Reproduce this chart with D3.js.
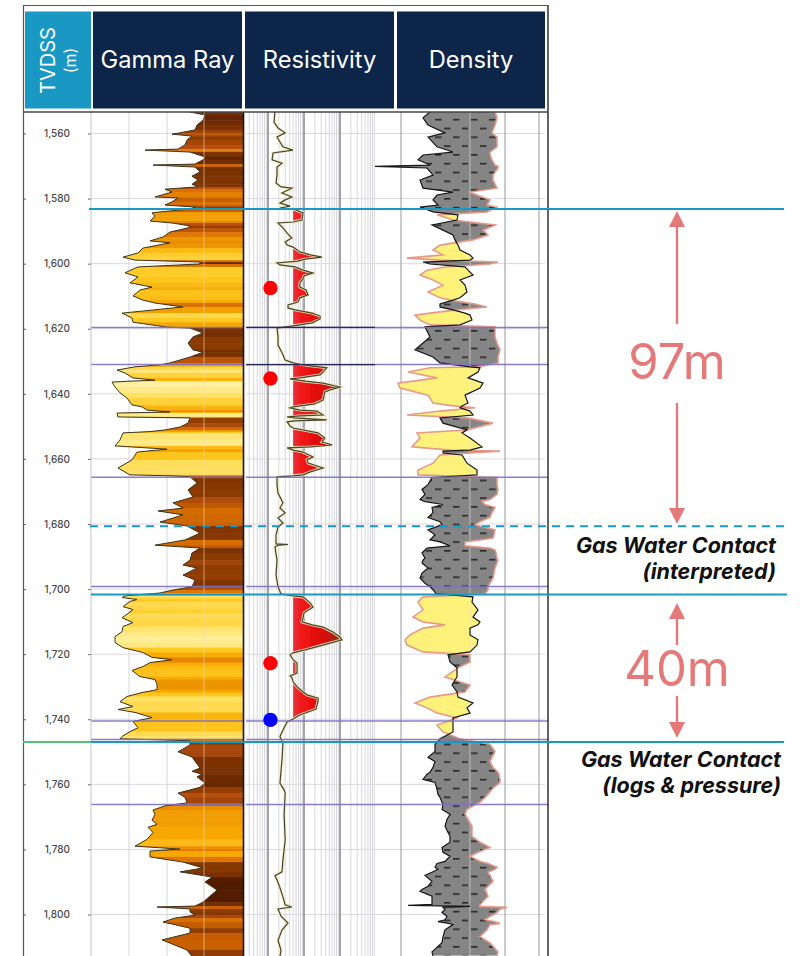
<!DOCTYPE html>
<html><head><meta charset="utf-8">
<script src="https://cdn.jsdelivr.net/npm/d3@7"></script>
<style>html,body{margin:0;padding:0;background:#fff}svg{display:block}text{font-family:Inter,"Noto Sans",sans-serif}</style>
</head><body><svg id="c" width="802" height="956"></svg>
<script>
// ---------- data ----------
const depthTicks = [1560,1580,1600,1620,1640,1660,1680,1700,1720,1740,1760,1780,1800];
const headers = ["Gamma Ray","Resistivity","Density"];
// [depth m, gamma ray reading]
const gammaRay = [[1553.4,99],[1554.3,114],[1555.9,112],[1557.4,106],[1558.9,104],[1559.8,89],[1560.2,81],[1560.8,101],[1562,96],[1563.5,94],[1564.8,87],[1565.1,54],[1565.7,99],[1567.2,114],[1568.1,112],[1569.4,104],[1569.7,62],[1570.3,104],[1571.8,109],[1573.1,101],[1574.3,107],[1575.6,101],[1576.4,107],[1577.1,74],[1578,81],[1579.5,64],[1579.8,87],[1581,81],[1582,74],[1582.6,104],[1583.2,99],[1584.1,69],[1584.4,61],[1585.4,64],[1586.9,59],[1587.5,81],[1588.4,99],[1589,97],[1590.3,79],[1591.8,72],[1593,59],[1593.6,79],[1595.2,52],[1596.7,47],[1598,32],[1598.9,44],[1599.5,109],[1600.1,109],[1601,47],[1602.8,34],[1604.1,47],[1605.9,39],[1607.2,61],[1608.1,49],[1609.9,42],[1611.2,52],[1612.1,64],[1613.3,92],[1615.2,31],[1616.7,41],[1618,42],[1619.5,76],[1619.8,99],[1621.3,112],[1622.5,102],[1624.4,97],[1626.5,102],[1627.2,112],[1628.7,99],[1630.5,79],[1631.1,69],[1631.7,44],[1632.7,26],[1633.6,34],[1635.1,42],[1635.8,64],[1636.1,39],[1636.4,21],[1637.9,24],[1639.7,29],[1641.3,36],[1643.4,41],[1644,51],[1645,56],[1645.6,79],[1645.9,26],[1647.1,27],[1647.4,99],[1649,97],[1650.2,89],[1651.1,74],[1651.6,59],[1652,32],[1654.2,29],[1656,24],[1657,76],[1657.9,46],[1660.3,41],[1662.8,27],[1664.9,39],[1665.2,79],[1665.5,99],[1667.4,106],[1669.5,97],[1671.7,102],[1673.5,82],[1675.1,92],[1676,67],[1677.2,92],[1679.4,69],[1680.6,96],[1682.8,109],[1684.9,94],[1686.5,64],[1687.4,109],[1688.9,101],[1691.1,99],[1692.6,92],[1693.5,106],[1695.7,92],[1697.2,104],[1699.3,101],[1700.3,82],[1701.2,69],[1702.1,34],[1702.6,31],[1703.2,46],[1703.8,39],[1705.4,32],[1706.3,42],[1707.5,37],[1708.8,31],[1710.3,42],[1711.5,32],[1713.1,31],[1714.6,24],[1716.4,24],[1718,32],[1719.5,52],[1721,61],[1721.7,81],[1722.6,59],[1723.8,52],[1725,41],[1726.9,49],[1727.8,64],[1729.3,66],[1730.9,66],[1731.8,51],[1733,36],[1734.6,29],[1736.1,42],[1737,27],[1737.9,44],[1739.5,61],[1740.7,42],[1742.6,47],[1743.8,39],[1745.3,31],[1746,29],[1746.6,99],[1747.9,99],[1750,87],[1751.6,101],[1755,109],[1756,101],[1756.9,111],[1757.7,106],[1759.6,114],[1760.9,109],[1762.7,87],[1764,94],[1765.7,96],[1766.6,74],[1767.9,62],[1769.2,64],[1771,61],[1772.3,66],[1773.2,57],[1774.8,62],[1776.9,56],[1779,44],[1779.9,89],[1780.5,59],[1782.3,59],[1783.9,92],[1785.7,112],[1786.9,89],[1788.5,121],[1790,114],[1792.5,126],[1796.2,112],[1797.4,104],[1797.7,66],[1798.3,99],[1799.2,99],[1800.2,104],[1801.1,84],[1802.3,72],[1804.2,99],[1805.7,99],[1807.8,71],[1810.9,96],[1813.3,102]];
// [depth m, resistivity ohm.m]
const resistivity = [[1553.4,1.56],[1556.5,1.47],[1558.3,1.9],[1559.8,3],[1561.1,1.78],[1562.6,2.15],[1564.1,2.6],[1565.1,4.9],[1566,1.38],[1568.1,1.3],[1569.1,2.45],[1570.3,1.78],[1572.8,1.78],[1575.2,1.67],[1576.4,2.3],[1576.8,4.6],[1578.3,2.45],[1579.5,4.6],[1580.4,3],[1581.4,2.15],[1582.3,4.1],[1582.9,2.15],[1583.2,5],[1584.4,9.4],[1586.6,8.8],[1587.2,5],[1587.5,1.9],[1589,2.6],[1590.6,3.4],[1592.1,4.6],[1593.3,3],[1594.3,3.4],[1594.9,5],[1596.4,7.7],[1597.3,15],[1598,31.6],[1598.6,10.7],[1599.2,6.8],[1599.8,1.78],[1600.4,2.15],[1601,5.6],[1602,9.4],[1602.9,17.8],[1603.8,10],[1604.7,9.4],[1605.9,7.7],[1607.2,7.7],[1608.1,11.4],[1609.6,13],[1610.5,7.7],[1611.8,6.8],[1612.7,3.6],[1613.6,3.6],[1614.2,5.6],[1615.2,17],[1616.1,28],[1617,28],[1618.2,17],[1619.1,5],[1619.8,1.78],[1622.5,1.9],[1625,1.9],[1627.4,2.45],[1629.6,3],[1630.5,5],[1631.1,9.4],[1632,43],[1633.3,33.8],[1634.2,28],[1635.1,7.7],[1635.4,4.1],[1636.1,10.7],[1636.7,33.8],[1637.9,100],[1638.8,53],[1639.4,38],[1641.9,33.8],[1643.1,20],[1644,5],[1644.3,4.1],[1645,7.7],[1645.3,23],[1646.5,33.8],[1646.8,7.7],[1647.1,3.4],[1647.4,5.6],[1648,43],[1648.3,5.6],[1648.6,3.4],[1649.9,4.1],[1650.5,5],[1652,24.5],[1653.6,38],[1654.8,31.6],[1655.7,60],[1656.3,15],[1656.6,3.4],[1657.3,5],[1657.9,9.4],[1659.4,17.8],[1660.3,12.1],[1661.3,13],[1662.8,33.8],[1664,15],[1664.9,9.4],[1665.2,5],[1665.5,1.78],[1668,1.78],[1670.5,1.9],[1673.5,2.6],[1675.1,2.15],[1676.6,3],[1678.1,1.9],[1679.7,2.6],[1680.9,1.9],[1683.4,1.67],[1686.1,1.67],[1686.3,3.6],[1686.5,1.9],[1687.1,1.56],[1691.1,1.78],[1695.7,1.67],[1699.3,1.9],[1701.5,2.3],[1702.1,5],[1702.4,9.4],[1704.3,15],[1705.5,17.8],[1707.3,10],[1708.9,9.4],[1710.1,8.8],[1711,17],[1711.7,33.8],[1713.2,64],[1714.7,100],[1715.6,113],[1717.2,33.8],[1718.7,10.7],[1719.6,5],[1720.2,4.1],[1721.7,5],[1722.7,6.4],[1724.2,6.4],[1725.8,6.4],[1726.7,4.1],[1727.3,4.6],[1728.5,5],[1730,6.4],[1731.3,8.8],[1732.5,12.1],[1733.5,24.5],[1734.7,24.5],[1735.6,23],[1736.9,21.5],[1738.7,7.7],[1739.9,5],[1740.8,3.4],[1743.3,2.6],[1745.4,2.15],[1747.3,2.6],[1752.5,2.45],[1759.6,2.15],[1761.7,2.8],[1762.7,3],[1769.4,2.8],[1777.1,3],[1783.2,2.6],[1786.9,2.45],[1788.1,1.56],[1789.4,1.78],[1791.8,2.15],[1794.6,2.6],[1797,3],[1797.7,4.6],[1798.3,1.9],[1800.5,2.3],[1802.6,3.6],[1804.8,2.45],[1807.9,1.9],[1811,2.3],[1812.9,2.15]];
// [depth m, neutron reading (black), density reading (pink)]
const porosity = [[1553.4,55,120],[1555.2,48,122],[1557.4,53,120],[1559.8,70,117],[1561.1,53,122],[1564.1,62,122],[1565.7,78,115],[1566.6,48,115],[1568.1,43,117],[1569.7,55,120],[1570.1,0,123],[1570.6,52,123],[1572.8,58,118],[1574.3,45,118],[1576.8,48,122],[1578,78,95],[1578.9,62,102],[1580.4,58,115],[1582,63,112],[1582.6,45,122],[1584.1,58,112],[1585,83,62],[1586.6,82,78],[1588.1,57,120],[1589.7,68,108],[1591.2,78,113],[1592.7,80,98],[1594.3,83,65],[1595.8,85,58],[1597.3,95,68],[1598.3,98,32],[1598.9,95,65],[1599.5,48,123],[1600.1,55,115],[1601,90,70],[1602,93,52],[1603.5,98,45],[1605,85,58],[1606.6,90,68],[1608.7,92,53],[1610.5,85,65],[1611.2,78,75],[1612.4,65,100],[1613.3,65,112],[1614.2,78,82],[1615.2,90,55],[1615.8,95,40],[1617.3,97,45],[1618.8,85,55],[1619.4,50,120],[1622.5,55,120],[1624.4,48,122],[1626.5,40,125],[1628.7,58,123],[1630.5,65,123],[1631.7,95,105],[1632,105,55],[1633.3,103,33],[1635.1,93,62],[1636.7,108,23],[1638.2,105,25],[1640.4,90,53],[1642.8,93,58],[1643.7,87,78],[1644.3,85,100],[1645.3,95,65],[1646.5,98,32],[1647.4,65,92],[1649,68,118],[1651.1,92,92],[1652,87,42],[1653.6,95,45],[1656.3,107,37],[1657.3,95,75],[1657.6,68,125],[1658.2,68,95],[1658.8,87,65],[1661.3,92,58],[1663.4,102,43],[1664.9,102,43],[1665.7,57,122],[1667.9,53,122],[1669.4,47,123],[1670.9,50,122],[1672.5,45,115],[1673.1,50,107],[1674,68,110],[1674.9,57,120],[1676.5,58,117],[1678,53,115],[1679.3,65,105],[1680.2,67,100],[1681.8,53,120],[1683.3,60,119],[1684.3,57,118],[1684.9,55,105],[1685.5,65,90],[1686.7,75,90],[1687.4,52,115],[1688,50,120],[1688.9,47,121],[1690.5,50,122],[1691.1,48,123],[1692,47,122],[1693.5,53,120],[1695.1,47,119],[1696.6,45,118],[1698.2,50,115],[1699.3,55,113],[1700.2,58,113],[1701.4,61,110],[1702.4,98,48],[1704,97,43],[1706.4,103,48],[1708.6,98,38],[1710.1,105,48],[1711,103,70],[1712,95,48],[1714.1,95,35],[1715.6,103,30],[1717.2,102,32],[1719.3,95,48],[1720.2,73,95],[1722.4,75,95],[1724.2,82,83],[1727,82,70],[1729.5,77,95],[1731.6,82,90],[1733.2,83,55],[1735,98,40],[1736.5,92,52],[1738.1,95,62],[1739.6,78,82],[1741.8,78,62],[1743.9,78,68],[1746,65,85],[1747.7,60,115],[1749.9,60,120],[1751.7,53,117],[1753,60,115],[1754.8,58,118],[1756.3,55,123],[1756.9,52,124],[1758.5,48,125],[1759.4,60,125],[1761.5,62,117],[1763.1,63,113],[1764,65,110],[1765.5,67,105],[1766.1,68,101],[1767.7,67,92],[1769.2,75,90],[1770.8,72,93],[1772.9,70,97],[1776,75,97],[1777.8,75,105],[1779.4,67,115],[1780.9,68,103],[1782.1,75,95],[1783.7,70,105],[1784.3,62,113],[1785.5,60,122],[1786.1,63,120],[1787,57,113],[1788,50,115],[1789.8,57,118],[1791.3,53,113],[1792.3,47,110],[1792.9,45,111],[1794.4,57,113],[1796.3,57,107],[1796.9,57,105],[1797.2,33,105],[1797.5,95,105],[1797.8,68,132],[1798.4,70,125],[1799.4,67,122],[1800.6,72,115],[1801.6,70,110],[1802.2,63,120],[1802.8,75,125],[1803.1,78,115],[1804.7,70,112],[1806.8,68,105],[1808.7,67,115],[1811.5,57,123],[1812.7,58,122]];
const formationTops = [1619.6,1631,1665.6,1699.2,1740.5,1746.2,1766.2];
const darkTops = [1619.6,1631];
const samples = [{depth:1607.5,res:1.17,kind:"gas"},{depth:1635.3,res:1.17,kind:"gas"},{depth:1722.8,res:1.17,kind:"gas"},{depth:1740.2,res:1.17,kind:"water"}];
const contactDepths = {top:1583.2,interpreted:1680.7,base:1701.7,logs:1747};
const gammaGrid = [38,76,113];
const resMajor = [1,10,100];
const resMinor = [0.3,0.4,0.5,0.6,0.7,0.8,0.9,2,3,4,5,6,7,8,9,20,30,40,50,60,70,80,90,200,300,400,500,600,700,800,900];
const porosityGrid = [26,130,164];
const porosityPale = 95;
const resCutoff = 5;

// ---------- scales ----------
const svg = d3.select("#c");
const y = d3.scaleLinear().domain([1560,1800]).range([133.5,914.5]);
const gx = d3.scaleLinear().domain([0,152]).range([91,243]);
const rx = d3.scaleLog().domain([1,1000]).range([268,376]);
const dx = d3.scaleLinear().domain([0,170]).range([375,545]);
const grColor = d3.scaleLinear().domain([20,32,42,60,75,90,100,115])
  .range(["#FFF3B0","#FFE36A","#FFC820","#F5A500","#E07800","#B85008","#8a3a06","#5e2205"]);
const plotTop = 112, plotBottom = 956;
const BLUE="#1a98c4", PINK="#E57878", NAVY="#0C2549";

const defs = svg.append("defs");
defs.append("clipPath").attr("id","plot").append("rect").attr("x",0).attr("y",plotTop).attr("width",802).attr("height",plotBottom-plotTop);
const soft = defs.append("filter").attr("id","soft").attr("x",0).attr("y",0).attr("width",1).attr("height",1);
soft.append("feGaussianBlur").attr("stdDeviation",0.45);
const grArea = d3.area().y(d=>y(d[0])).x0(d=>gx(d[1])).x1(gx(152));
defs.append("clipPath").attr("id","grClip").append("path").attr("d",grArea(gammaRay));
const grad = defs.append("linearGradient").attr("id","redFill").attr("gradientUnits","userSpaceOnUse")
  .attr("x1",rx(resCutoff)).attr("x2",rx(120)).attr("y1",0).attr("y2",0);
[[0,"#e8323c"],[0.2,"#f01414"],[0.65,"#d80c0c"],[0.85,"#a02a10"],[1,"#6e4a18"]].forEach(s=>grad.append("stop").attr("offset",s[0]).attr("stop-color",s[1]));
const pat = defs.append("pattern").attr("id","shale").attr("patternUnits","userSpaceOnUse").attr("width",36).attr("height",17.6).attr("y",y(1560));
pat.append("rect").attr("width",36).attr("height",17.6).attr("fill","#858585");
[[3,3],[21,3],[12,11.8],[30,11.8]].forEach(p=>pat.append("rect").attr("x",p[0]).attr("y",p[1]).attr("width",6.5).attr("height",1.5).attr("fill","#222"));
const dy = d=>y(d[0]);
defs.append("clipPath").attr("id","leftOfDensity").append("path").attr("d",d3.area().y(dy).x0(dx(-5)).x1(d=>dx(d[2]))(porosity));
defs.append("clipPath").attr("id","leftOfNeutron").append("path").attr("d",d3.area().y(dy).x0(dx(-5)).x1(d=>dx(d[1]))(porosity));

// ---------- plot ----------
const outer = svg.append("g").attr("clip-path","url(#plot)");
const plot = outer.append("g").attr("filter","url(#soft)");
plot.append("rect").attr("x",0).attr("y",plotTop-2).attr("width",560).attr("height",plotBottom-plotTop+4).attr("fill","#fff");
plot.append("g").selectAll("line").data(depthTicks).join("line")
  .attr("x1",91).attr("x2",545).attr("y1",d=>y(d)).attr("y2",d=>y(d)).attr("stroke","#d8d8e0").attr("stroke-width",1);
plot.append("g").selectAll("line").data(gammaGrid).join("line")
  .attr("x1",d=>gx(d)).attr("x2",d=>gx(d)).attr("y1",plotTop).attr("y2",plotBottom).attr("stroke","#d6d6dc").attr("stroke-width",1);
plot.append("g").selectAll("line").data(resMinor).join("line")
  .attr("x1",d=>rx(d)).attr("x2",d=>rx(d)).attr("y1",plotTop).attr("y2",plotBottom).attr("stroke","#d8d8dc").attr("stroke-width",1);
plot.append("g").selectAll("line").data(resMajor).join("line")
  .attr("x1",d=>rx(d)).attr("x2",d=>rx(d)).attr("y1",plotTop).attr("y2",plotBottom).attr("stroke","#85858c").attr("stroke-width",1.5);
plot.append("g").selectAll("line").data(porosityGrid).join("line")
  .attr("x1",d=>dx(d)).attr("x2",d=>dx(d)).attr("y1",plotTop).attr("y2",plotBottom).attr("stroke","#a8a8b0").attr("stroke-width",1.2);

// gamma ray bands
const bands = d3.pairs(gammaRay);
plot.append("g").attr("clip-path","url(#grClip)").selectAll("rect").data(bands).join("rect")
  .attr("x",91).attr("width",152)
  .attr("y",d=>y(d[0][0])).attr("height",d=>y(d[1][0])-y(d[0][0])+0.6)
  .attr("fill",d=>grColor((d[0][1]+d[1][1])/2));
plot.append("path").attr("d",d3.line().y(d=>y(d[0])).x(d=>gx(d[1]))(gammaRay)).attr("fill","none").attr("stroke","#3a3420").attr("stroke-width",1);
plot.append("line").attr("x1",gx(113)).attr("x2",gx(113)).attr("y1",plotTop).attr("y2",plotBottom).attr("stroke","#f6d8b0").attr("stroke-opacity",.6);

// resistivity fill + curve
plot.append("path").attr("d",d3.area().y(d=>y(d[0])).x0(rx(resCutoff)).x1(d=>rx(Math.max(d[1],resCutoff)))(resistivity)).attr("fill","url(#redFill)");
const resLine = d3.line().y(d=>y(d[0])).x(d=>rx(d[1]));
plot.append("path").attr("d",resLine(resistivity)).attr("fill","none").attr("stroke","#efe9c4").attr("stroke-width",3).attr("stroke-opacity",.9);
plot.append("path").attr("d",resLine(resistivity)).attr("fill","none").attr("stroke","#46482a").attr("stroke-width",1.2);

// neutron-density fills
const toRight = i => d3.area().y(dy).x0(d=>dx(d[i])).x1(dx(175));
plot.append("g").attr("clip-path","url(#leftOfDensity)").append("path").attr("d",toRight(1)(porosity)).attr("fill","url(#shale)");
plot.append("g").attr("clip-path","url(#leftOfNeutron)").append("path").attr("d",toRight(2)(porosity)).attr("fill","#FFF27A");
plot.append("line").attr("x1",dx(porosityPale)).attr("x2",dx(porosityPale)).attr("y1",plotTop).attr("y2",plotBottom).attr("stroke","#e4e4e8").attr("stroke-opacity",.55);
plot.append("path").attr("d",d3.line().y(dy).x(d=>dx(d[2]))(porosity)).attr("fill","none").attr("stroke","#e59a8c").attr("stroke-width",1.6);
plot.append("path").attr("d",d3.line().y(dy).x(d=>dx(d[1]))(porosity)).attr("fill","none").attr("stroke","#161616").attr("stroke-width",1.2);

// formation tops
plot.append("g").selectAll("line").data(formationTops).join("line")
  .attr("x1",91).attr("x2",548).attr("y1",d=>y(d)).attr("y2",d=>y(d)).attr("stroke","#7b70c4").attr("stroke-width",1.5).attr("stroke-opacity",.9);
plot.append("g").selectAll("line").data(darkTops).join("line")
  .attr("x1",246).attr("x2",375).attr("y1",d=>y(d)).attr("y2",d=>y(d)).attr("stroke","#2c2a58").attr("stroke-width",1.3);

// gap between gamma and resistivity tracks
plot.append("rect").attr("x",243).attr("y",plotTop).attr("width",3).attr("height",plotBottom-plotTop).attr("fill","#fff");
plot.append("line").attr("x1",243.5).attr("x2",243.5).attr("y1",plotTop).attr("y2",plotBottom).attr("stroke","#1a1208").attr("stroke-width",1.6);

// sample dots
outer.append("g").selectAll("circle").data(samples).join("circle")
  .attr("cx",d=>rx(d.res)).attr("cy",d=>y(d.depth)).attr("r",7.2).attr("fill",d=>d.kind==="gas"?"#ff0000":"#0000ff");

// axis
const axis = svg.append("g").attr("transform","translate(91,0)")
  .call(d3.axisLeft(y).tickValues(depthTicks).tickFormat(d3.format(",")).tickSize(3).tickPadding(18));
axis.select(".domain").remove();
axis.selectAll("text").attr("font-size",10).attr("font-weight",500).attr("fill","#4a4a4a");
axis.selectAll("line").attr("stroke","#666");
const axisL = svg.append("g").attr("transform","translate(24,0)").call(d3.axisRight(y).tickValues(depthTicks).tickFormat("").tickSize(2));
axisL.select(".domain").remove(); axisL.selectAll("line").attr("stroke","#666");

// frame
const frame = svg.append("g");
frame.append("line").attr("x1",91).attr("x2",91).attr("y1",plotTop).attr("y2",plotBottom).attr("stroke","#c4c4c8").attr("stroke-width",1);
frame.append("line").attr("x1",23.5).attr("x2",23.5).attr("y1",5).attr("y2",plotBottom).attr("stroke","#555").attr("stroke-width",1.2);
frame.append("line").attr("x1",548).attr("x2",548).attr("y1",5).attr("y2",plotBottom).attr("stroke","#222").attr("stroke-width",1.4);
frame.append("line").attr("x1",23).attr("x2",548).attr("y1",5.5).attr("y2",5.5).attr("stroke","#555").attr("stroke-width",1.2);
frame.append("line").attr("x1",23).attr("x2",548).attr("y1",112).attr("y2",112).attr("stroke","#444").attr("stroke-width",1.6);

// header
const head = svg.append("g");
head.append("rect").attr("x",25).attr("y",11.5).attr("width",66).attr("height",97).attr("fill",BLUE);
const cells = [[93,149],[245,149],[397,148]];
head.selectAll("rect.h").data(headers).join("rect").attr("class","h")
  .attr("x",(d,i)=>cells[i][0]).attr("y",11.5).attr("width",(d,i)=>cells[i][1]).attr("height",97).attr("fill",NAVY);
head.selectAll("text.h").data(headers).join("text").attr("class","h")
  .attr("x",(d,i)=>cells[i][0]+cells[i][1]/2).attr("y",68).attr("text-anchor","middle")
  .attr("font-size",23.7).attr("fill","#fff").text(d=>d);
head.append("text").attr("transform","translate(55,60.5) rotate(-90)").attr("text-anchor","middle").attr("font-size",20).attr("fill","#fff").text("TVDSS");
head.append("text").attr("transform","translate(76,60.5) rotate(-90)").attr("text-anchor","middle").attr("font-size",16).attr("fill","#fff").text("(m)");

// contacts
const cg = svg.append("g").attr("stroke",BLUE).attr("stroke-width",2);
cg.append("line").attr("x1",89).attr("x2",784).attr("y1",y(contactDepths.top)).attr("y2",y(contactDepths.top));
cg.append("line").attr("x1",90).attr("x2",784).attr("y1",y(contactDepths.interpreted)).attr("y2",y(contactDepths.interpreted)).attr("stroke-dasharray","8 6");
cg.append("line").attr("x1",91).attr("x2",787).attr("y1",y(contactDepths.base)).attr("y2",y(contactDepths.base));
cg.append("line").attr("x1",91).attr("x2",784).attr("y1",y(contactDepths.logs)).attr("y2",y(contactDepths.logs));
svg.append("line").attr("x1",23).attr("x2",91).attr("y1",y(contactDepths.logs)).attr("y2",y(contactDepths.logs)).attr("stroke","#55c27a").attr("stroke-width",2);

// annotations
function arrow(x,y0,y1){
  const dir = y1>y0?1:-1;
  const a = svg.append("g");
  a.append("line").attr("x1",x).attr("x2",x).attr("y1",y0).attr("y2",y1-dir*14).attr("stroke",PINK).attr("stroke-width",2.4);
  a.append("path").attr("d",`M${x},${y1}L${x-8},${y1-dir*16}L${x+8},${y1-dir*16}Z`).attr("fill",PINK);
}
arrow(677,324,211);arrow(677,403,524);
arrow(677,645,603);arrow(677,696,738);
svg.append("text").attr("x",677).attr("y",379).attr("text-anchor","middle").attr("font-size",49).attr("fill",PINK).text("97m");
svg.append("text").attr("x",677).attr("y",686).attr("text-anchor","middle").attr("font-size",49).attr("fill",PINK).text("40m");
const notes = [["Gas Water Contact",776,553],["(interpreted)",776,579],["Gas Water Contact",781,767],["(logs & pressure)",781,793]];
svg.append("g").selectAll("text").data(notes).join("text")
  .attr("x",d=>d[1]).attr("y",d=>d[2]).attr("text-anchor","end").attr("font-size",21.5).attr("font-weight",700).attr("font-style","italic").attr("fill","#111").text(d=>d[0]);
</script></body></html>
